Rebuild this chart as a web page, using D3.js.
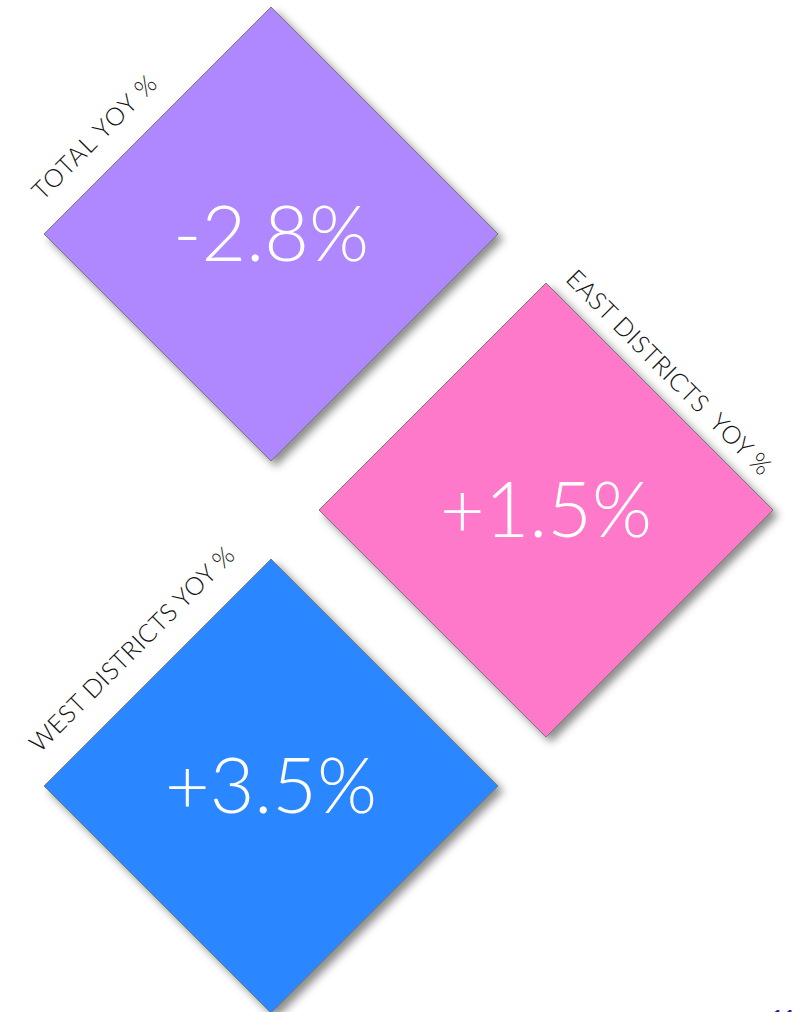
<!DOCTYPE html>
<html>
<head>
<meta charset="utf-8">
<script src="https://cdn.jsdelivr.net/npm/d3@7.9.0/dist/d3.min.js"></script>
<style>
    html, body { margin: 0; padding: 0; background: #fff; overflow: hidden; }
    svg { display: block; }
    text { font-family: "Lato", "Open Sans", sans-serif; }
</style>
</head>
<body>
<svg id="chart" width="803" height="1012"></svg>
<script>
// tiles, top to bottom
const labels = ['TOTAL YOY %', 'EAST DISTRICTS  YOY %', 'WEST DISTRICTS YOY %'];
const values = [-2.8, 1.5, 3.5];
const colors = ['#af87ff', '#ff79cb', '#2b87ff'];
const pageNumber = '11';

const half = 227; // half diagonal of a diamond

const svg = d3.select('#chart');

const locale = d3.formatLocale({ decimal: '.', thousands: ',', grouping: [3], currency: ['', ''], minus: '-' });
const fmt = v => locale.format('+.1f')(v) + '%';

const color = d3.scaleOrdinal().domain(labels).range(colors);

// tiles sit on a zig-zag grid: column alternates, rows step down
const x = d3.scaleLinear().domain([0, 1]).range([271, 546]);
const y = d3.scaleLinear().domain([0, 2]).range([234, 786]);

const tiles = labels.map((label, i) => ({
    label,
    value: values[i],
    col: i % 2,
    row: i
}));

const defs = svg.append('defs');
defs.append('filter')
    .attr('id', 'shadow')
    .attr('x', '-20%').attr('y', '-20%')
    .attr('width', '140%').attr('height', '140%')
    .append('feDropShadow')
    .attr('dx', 5).attr('dy', 5)
    .attr('stdDeviation', 4.5)
    .attr('flood-color', '#000')
    .attr('flood-opacity', 0.45);

const g = svg.selectAll('g.tile')
    .data(tiles)
    .join('g')
    .attr('class', 'tile')
    .attr('transform', d => `translate(${x(d.col)},${y(d.row)})`);

g.append('path')
    .attr('d', `M0,${-half}L${half},0L0,${half}L${-half},0Z`)
    .attr('fill', d => color(d.label))
    .attr('stroke', '#7a7a7a')
    .attr('stroke-width', 1)
    .attr('filter', 'url(#shadow)');

g.append('text')
    .attr('x', 0)
    .attr('y', 27)
    .attr('text-anchor', 'middle')
    .attr('fill', '#fff')
    .attr('font-size', 77)
    .attr('font-weight', 300)
    .text(d => fmt(d.value));

// label runs along the upper-left edge, or the upper-right one for the right column
g.append('text')
    .attr('transform', d => d.col === 0
        ? `translate(${-half},0) rotate(-45)`
        : `translate(0,${-half}) rotate(45)`)
    .attr('x', d => d.col === 0 ? (d.row === 0 ? 22 : 20) : 11)
    .attr('y', d => d.col === 0 ? (d.row === 0 ? -24 : -26) : -15)
    .attr('textLength', d => d.row === 0 ? 164 : 278)
    .attr('lengthAdjust', 'spacing')
    .attr('fill', '#111')
    .attr('font-size', 25)
    .attr('font-weight', 300)
    .style('white-space', 'pre')
    .text(d => d.label);

svg.append('text')
    .attr('x', 771)
    .attr('y', 1025)
    .attr('fill', '#2222b0')
    .attr('font-size', 21)
    .attr('font-weight', 700)
    .text(pageNumber);
</script>
</body>
</html>
